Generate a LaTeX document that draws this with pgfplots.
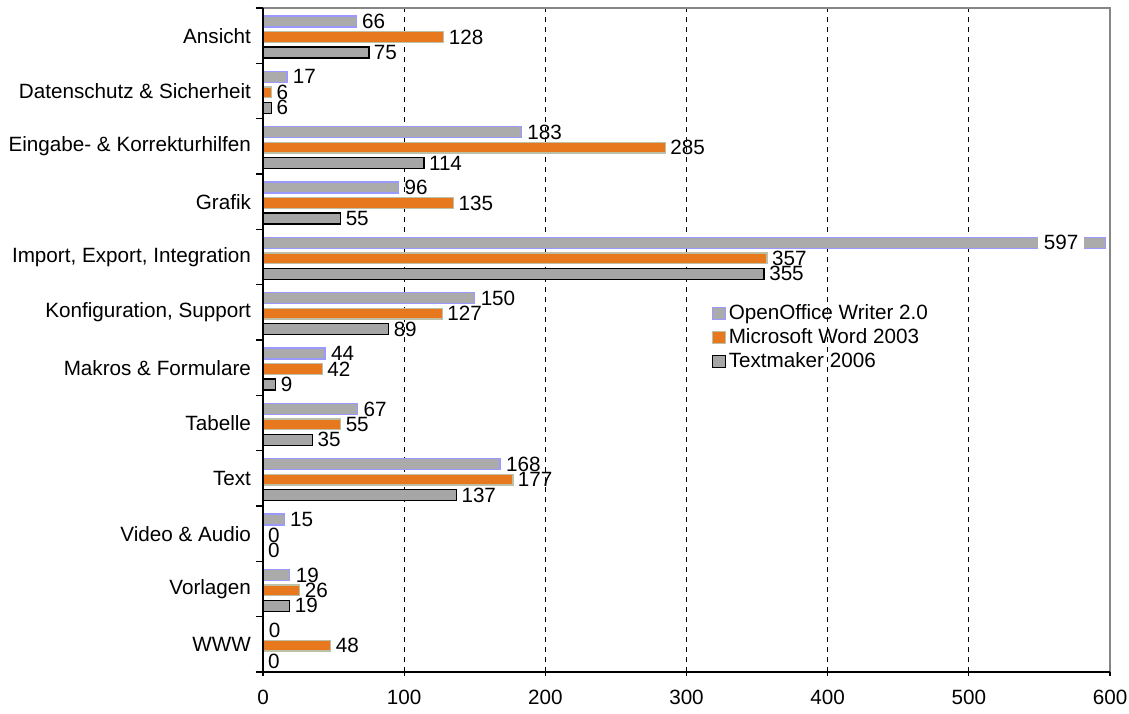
\documentclass[border=0pt]{standalone}
\usepackage{pgfplots}
\pgfplotsset{compat=1.18}
\usepackage{pgfplotstable}
\usepackage{fontspec}
\setmainfont{Liberation Sans}
\definecolor{oofill}{HTML}{ABABAB}
\definecolor{ooedge}{HTML}{9999FF}
\definecolor{wordfill}{HTML}{E8781E}
\definecolor{wordedge}{HTML}{BDBFA6}
\definecolor{tmfill}{HTML}{A6A6A6}
\definecolor{frame}{HTML}{868686}

% y = 11 for the top category (Ansicht) down to 0 for WWW
\pgfplotstableread{
y val sh bg
11 66 0 0
10 17 0 0
9 183 0 0
8 96 0 0
7 597 -51 1
6 150 0 0
5 44 0 0
4 67 0 0
3 168 0 0
2 15 0 0
1 19 0 0
0 0 0 0
}\oo

\pgfplotstableread{
y val
11 128
10 6
9 285
8 135
7 357
6 127
5 42
4 55
3 177
2 0
1 26
0 48
}\word

\pgfplotstableread{
y val
11 75
10 6
9 114
8 55
7 355
6 89
5 9
4 35
3 137
2 0
1 19
0 0
}\tm

\newcommand{\chartfont}{\fontsize{15.5pt}{18pt}\selectfont}

\begin{document}
\begin{tikzpicture}[font=\chartfont]
\begin{axis}[
  scale only axis,
  width=635.25pt, height=498pt,
  xbar, bar width=0.195,
  xmin=0, xmax=600, ymin=-0.5, ymax=11.5,
  xtick={0,100,...,600},
  ytick={0.5,1.5,...,11.5},
  yticklabels={WWW, Vorlagen, Video \& Audio, Text, Tabelle, Makros \& Formulare, {Konfiguration, Support}, {Import, Export, Integration}, Grafik, Eingabe- \& Korrekturhilfen, Datenschutz \& Sicherheit, Ansicht},
  yticklabel style={yshift=-20.75pt},
  extra y ticks={-0.5},
  extra y tick labels={},
  xtick pos=bottom, ytick pos=left,
  xtick align=center, ytick align=outside,
  major tick length=5.5pt,
  tick style={draw=black, line width=0.9pt},
  axis line style={draw=none},
  xmajorgrids,
  major grid style={black, line width=0.6pt, dash pattern=on 3.5pt off 4pt},
  tick label style={font=\chartfont},
  xticklabel style={yshift=-7pt},
  /pgf/number format/assume math mode=true,
  nodes near coords,
  every node near coord/.append style={font=\chartfont, text=black},
  legend style={at={(0.5255,0.562)}, anchor=north west, draw=none, fill=none,
    font=\chartfont, row sep=0pt,
    nodes={inner sep=2pt, text height=11pt, text depth=3pt}},
  legend cell align=left,
  legend image code/.code={\draw[#1, line width=0.8pt] (0pt,-4.5pt) rectangle (9.5pt,4.5pt);},
]
\addplot[fill=oofill, draw=ooedge, line width=1pt, bar shift=0.255,
  visualization depends on={\thisrow{sh} \as \mysh},
  visualization depends on={\thisrow{bg} \as \mybg},
  every node near coord/.append style={xshift=\mysh pt, fill=white, fill opacity=\mybg, text opacity=1, inner sep=4pt}]
  table[x=val, y=y] {\oo};
\addplot[fill=wordfill, draw=wordedge, line width=1pt, bar shift=-0.025]
  table[x=val, y=y] {\word};
\addplot[fill=tmfill, draw=black, line width=1pt, bar shift=-0.305]
  table[x=val, y=y] {\tm};
\legend{OpenOffice Writer 2.0, Microsoft Word 2003, Textmaker 2006}
\end{axis}
\draw[frame, line width=1.3pt] (current axis.north west) -- (current axis.north east) -- (current axis.south east);
\draw[black, line width=1pt] (current axis.north west) -- (current axis.south west) -- (current axis.south east);
\path (current axis.south west) ++(-197.25pt,-30.75pt) coordinate (bbsw);
\path (current axis.north east) ++(14.25pt,6pt) coordinate (bbne);
\pgfresetboundingbox
\path[use as bounding box] (bbsw) rectangle (bbne);
\end{tikzpicture}
\end{document}
